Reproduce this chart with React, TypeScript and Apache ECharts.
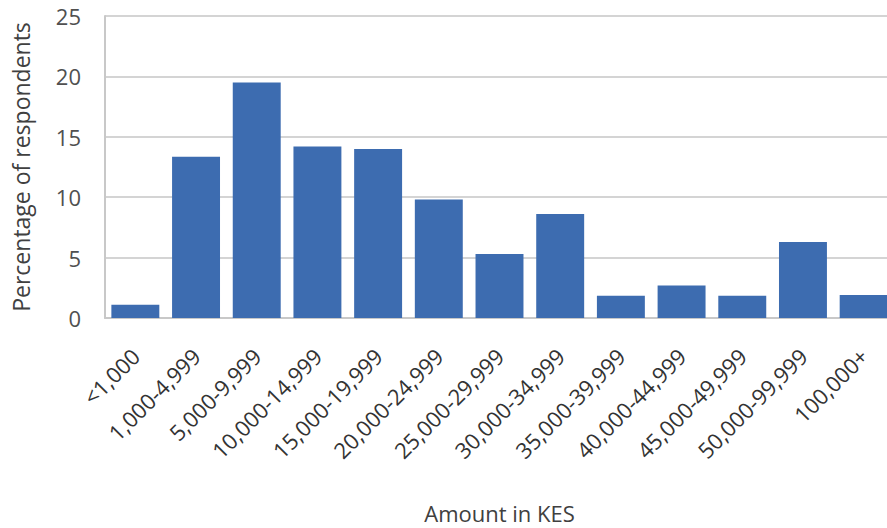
import React, { useEffect, useRef } from "react";
import * as echarts from "echarts";

const categories = [
  "<1,000",
  "1,000-4,999",
  "5,000-9,999",
  "10,000-14,999",
  "15,000-19,999",
  "20,000-24,999",
  "25,000-29,999",
  "30,000-34,999",
  "35,000-39,999",
  "40,000-44,999",
  "45,000-49,999",
  "50,000-99,999",
  "100,000+",
];
const percentages = [1.1, 13.35, 19.5, 14.2, 14.0, 9.8, 5.3, 8.6, 1.85, 2.7, 1.85, 6.3, 1.9];
const yTicks = [0, 5, 10, 15, 20, 25];

const FONT = "Open Sans";

export default function App() {
  const ref = useRef<HTMLDivElement>(null);
  useEffect(() => {
    if (!ref.current) return;
    const chart = echarts.init(ref.current, null, { renderer: "svg" });
    chart.setOption({
      animation: false,
      backgroundColor: "#ffffff",
      grid: {
        left: 105,
        top: 16,
        width: 789,
        height: 302,
        containLabel: false,
        outerBoundsMode: "none",
      },
      xAxis: {
        type: "category",
        data: categories,
        name: "Amount in KES",
        nameLocation: "middle",
        nameGap: 184,
        nameTextStyle: { fontFamily: FONT, fontSize: 22, color: "#404040" },
        axisLine: { show: true, lineStyle: { color: "#c8c8c8", width: 2 } },
        axisTick: { show: false },
        axisLabel: {
          rotate: 45,
          interval: 0,
          margin: 34,
          fontFamily: FONT,
          fontSize: 22,
          color: "#333333",
        },
      },
      yAxis: {
        type: "value",
        min: yTicks[0],
        max: yTicks[yTicks.length - 1],
        interval: 5,
        name: "Percentage of respondents",
        nameLocation: "middle",
        nameGap: 73,
        nameTextStyle: { fontFamily: FONT, fontSize: 23, color: "#404040" },
        axisLine: { show: true, lineStyle: { color: "#c8c8c8", width: 2 } },
        axisTick: { show: false },
        axisLabel: { margin: 24, fontFamily: FONT, fontSize: 22, color: "#505050" },
        splitLine: { show: true, lineStyle: { color: "#d4d4d4", width: 2 } },
      },
      series: [
        {
          type: "bar",
          data: percentages,
          barCategoryGap: "21%",
          itemStyle: { color: "#3d6cb0" },
        },
      ],
    });
    return () => chart.dispose();
  }, []);
  return (
    <div
      ref={ref}
      style={{ position: "fixed", left: 0, top: 0, width: 887, height: 528, background: "#fff" }}
    />
  );
}
